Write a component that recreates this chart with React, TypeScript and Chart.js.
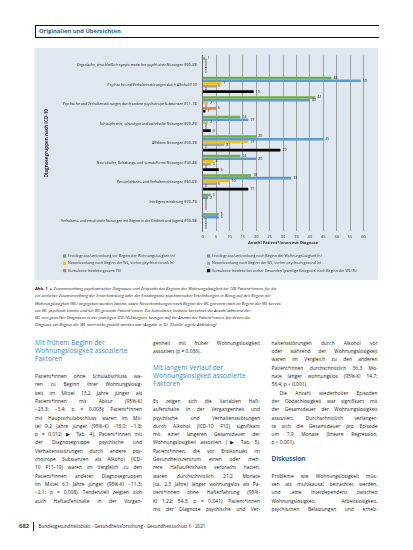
import React, { useEffect, useRef } from 'react';
import { Chart, registerables } from 'chart.js';
Chart.register(...registerables);

// ---------- data ----------
const categories = [
  'Organische, einschließlich symptomatischer psychischer Störungen (F00–09)',
  'Psychische und Verhaltensstörungen durch Alkohol (F10)',
  'Psychische und Verhaltensstörungen durch andere psychotrope Substanzen (F11–19)',
  'Schizophrenie, schizotype und wahnhafte Störungen (F20–29)',
  'Affektive Störungen (F30–39)',
  'Neurotische, Belastungs- und somatoforme Störungen (F40–48)',
  'Persönlichkeits- und Verhaltensstörungen (F60–69)',
  'Intelligenzminderung (F70–79)',
  'Verhaltens- und emotionale Störungen mit Beginn in der Kindheit und Jugend (F90–98)',
];
const vorBeginn = [1, 48, 42, 14, 20, 14, 18, 3, 6];
const nachBeginn = [0, 59, 40, 17, 45, 20, 33, 2, 6];
const neuVorherKrank = [0, 7, 2, 2, 17, 4, 10, 0, 0];
const neuVorherGesund = [0, 5, 0, 0, 8, 3, 5, 0, 0];
const inzidenzGesamt = [0, 0, 5, 0, 0, 0, 0, 0, 0];
const inzidenzKategorie = [0, 19, 1, 3, 29, 6, 17, 0, 0];

const seriesLabels = [
  'Erstdiagnose/-erkrankung vor Beginn der Wohnungslosigkeit (n)',
  'Erstdiagnose/-erkrankung nach Beginn der Wohnungslosigkeit (n)',
  'Neuerkrankung nach Beginn der WL, vorher psychisch krank (n)',
  'Neuerkrankung nach Beginn der WL, vorher psychisch gesund (n)',
  'Kumulative Inzidenz gesamt (%)',
  'Kumulative Inzidenz bei vorher Gesunden (jeweilige Kategorie) nach Beginn der WL (%)',
];
const seriesColors = ['#70ad47', '#5b9bd5', '#ffc000', '#a5a5a5', '#ed7d31', '#000000'];
const xMin = 0;
const xMax = 60;
const xStep = 5;
const xTitle = 'Anzahl Patient*innen mit Diagnose';
const yTitle = 'Diagnosegruppen nach ICD-10';

// ---------- plugins ----------
const valueLabels = {
  id: 'valueLabels',
  afterDatasetsDraw(chart: any) {
    const ctx = chart.ctx;
    ctx.save();
    ctx.font = '3.6px "Open Sans"';
    ctx.fillStyle = '#222';
    ctx.textBaseline = 'middle';
    ctx.textAlign = 'left';
    chart.data.datasets.forEach((ds: any, i: number) => {
      const meta = chart.getDatasetMeta(i);
      meta.data.forEach((bar: any, j: number) => {
        ctx.fillText(String(ds.data[j]), bar.x + 2, bar.y);
      });
    });
    ctx.restore();
  },
};

const twoColLegend = {
  id: 'twoColLegend',
  afterDraw(chart: any) {
    const ctx = chart.ctx;
    const order = [0, 1, 2, 3, 4, 5];
    const colX = [28, 172];
    const rowY = [208, 215.3, 222.5];
    ctx.save();
    ctx.font = '3.6px "Open Sans"';
    ctx.textBaseline = 'middle';
    order.forEach((di, k) => {
      const ds = chart.data.datasets[di];
      const x = colX[k % 2];
      const y = rowY[Math.floor(k / 2)];
      ctx.fillStyle = ds.backgroundColor;
      ctx.fillRect(x, y - 1.6, 3.2, 3.2);
      ctx.fillStyle = '#333';
      ctx.fillText(ds.label, x + 5, y);
    });
    ctx.restore();
  },
};

// ---------- text ----------
type L = { t: string; k: 'h' | 'b' | 'bl' | 'x' | 'd' | 'i' };
const col1: L[] = [
  { t: 'Mit frühem Beginn der', k: 'h' },
  { t: 'Wohnungslosigkeit assoziierte', k: 'h' },
  { t: 'Faktoren', k: 'h' },
  { t: '', k: 'x' },
  { t: 'Patient*innen ohne Schulabschluss wa-', k: 'b' },
  { t: 'ren zu Beginn ihrer Wohnungslosig-', k: 'b' },
  { t: 'keit im Mittel 13,2 Jahre jünger als', k: 'b' },
  { t: 'Patient*innen mit Abitur (95%-KI', k: 'b' },
  { t: '−23,3; −3,4; p = 0,003); Patient*innen', k: 'b' },
  { t: 'mit Hauptschulabschluss waren im Mit-', k: 'b' },
  { t: 'tel 9,2 Jahre jünger (95%-KI −18,0; −1,8;', k: 'b' },
  { t: 'p = 0,012; ▶ Tab. 4). Patient*innen mit', k: 'b' },
  { t: 'der Diagnosegruppe psychische und', k: 'b' },
  { t: 'Verhaltensstörungen durch andere psy-', k: 'b' },
  { t: 'chotrope Substanzen als Alkohol (ICD-', k: 'b' },
  { t: '10 F11–19) waren im Vergleich zu den', k: 'b' },
  { t: 'Patient*innen anderer Diagnosegruppen', k: 'b' },
  { t: 'im Mittel 6,1 Jahre jünger (95%-KI −11,3;', k: 'b' },
  { t: '−2,1; p = 0,008). Tendenziell zeigten sich', k: 'b' },
  { t: 'auch Haftaufenthalte in der Vorgan-', k: 'b' },
];
const col2: L[] = [
  { t: 'genheit mit früher Wohnungslosigkeit', k: 'b' },
  { t: 'assoziiert (p = 0,036).', k: 'bl' },
  { t: '', k: 'x' },
  { t: 'Mit langem Verlauf der', k: 'h' },
  { t: 'Wohnungslosigkeit assoziierte', k: 'h' },
  { t: 'Faktoren', k: 'h' },
  { t: '', k: 'x' },
  { t: 'Es zeigen sich die Variablen Haft-', k: 'b' },
  { t: 'aufenthalte in der Vergangenheit und', k: 'b' },
  { t: 'psychische und Verhaltensstörungen', k: 'b' },
  { t: 'durch Alkohol (ICD-10 F10) signifikant', k: 'b' },
  { t: 'mit einer längeren Gesamtdauer der', k: 'b' },
  { t: 'Wohnungslosigkeit assoziiert (▶ Tab. 5).', k: 'b' },
  { t: 'Patient*innen, die vor Erstkontakt im', k: 'b' },
  { t: 'Gesundheitszentrum einen oder meh-', k: 'b' },
  { t: 'rere Haftaufenthalte verbracht hatten,', k: 'b' },
  { t: 'waren durchschnittlich 27,2 Monate', k: 'b' },
  { t: '(ca. 2,3 Jahre) länger wohnungslos als Pa-', k: 'b' },
  { t: 'tient*innen ohne Hafterfahrung (95%-', k: 'b' },
  { t: 'KI 1,22; 54,3; p = 0,041). Patient*innen', k: 'b' },
  { t: 'mit der Diagnose psychische und Ver-', k: 'b' },
];
const col3: L[] = [
  { t: 'haltensstörungen durch Alkohol vor', k: 'b' },
  { t: 'oder während der Wohnungslosigkeit', k: 'b' },
  { t: 'waren im Vergleich zu den anderen', k: 'b' },
  { t: 'Patient*innen durchschnittlich 36,3 Mo-', k: 'b' },
  { t: 'nate länger wohnungslos (95%-KI 14,7;', k: 'b' },
  { t: '58,4; p < 0,001).', k: 'bl' },
  { t: 'Die Anzahl wiederholter Episoden', k: 'i' },
  { t: 'der Obdachlosigkeit war signifikant mit', k: 'b' },
  { t: 'der Gesamtdauer der Wohnungslosigkeit', k: 'b' },
  { t: 'assoziiert. Durchschnittlich verlänger-', k: 'b' },
  { t: 'te sich die Gesamtdauer pro Episode', k: 'b' },
  { t: 'um 7,9 Monate (lineare Regression,', k: 'b' },
  { t: 'p < 0,001).', k: 'bl' },
  { t: '', k: 'x' },
  { t: 'Diskussion', k: 'd' },
  { t: '', k: 'x' },
  { t: 'Probleme wie Wohnungslosigkeit müs-', k: 'b' },
  { t: 'sen als multikausal betrachtet werden,', k: 'b' },
  { t: 'und „eine Interdependenz zwischen', k: 'b' },
  { t: 'Wohnungslosigkeit,    Arbeitslosigkeit,', k: 'b' },
  { t: 'psychischen Belastungen und erheb-', k: 'b' },
];
const caption = [
  'Zusammenhang psychiatrischer Diagnosen und Zeitpunkt des Beginns der Wohnungslosigkeit bei 106 Patient*innen, für die',
  'ein zeitlicher Zusammenhang der Ersterkrankung oder der Erstdiagnose psychiatrischer Erkrankungen in Bezug auf den Beginn der',
  'Wohnungslosigkeit (WL) angegeben werden konnte, sowie Neuerkrankungen nach Beginn der WL getrennt nach zu Beginn der WL bereits',
  'vor WL psychisch kranke und bei WL gesunde Patient*innen. Die kumulative Inzidenz berechnet die Anzahl während der',
  'WL neu gestellter Diagnosen in der jeweiligen ICD-10-Kategorie bezogen auf die Anzahl der Patient*innen, bei denen die',
  'Diagnose vor Beginn der WL noch nicht gestellt worden war (Angabe in %). (Quelle: eigene Abbildung)',
];

const LH = 8.33;
const START = 342.7;

function Column({ x, w, lines }: { x: number; w: number; lines: L[] }) {
  return (
    <>
      {lines.map((l, i) => {
        if (l.k === 'x') return null;
        const cy = START + i * LH;
        const base: React.CSSProperties = {
          position: 'absolute',
          left: x,
          top: cy - LH / 2,
          width: w,
          height: LH,
          lineHeight: LH + 'px',
          whiteSpace: 'nowrap',
          fontFamily: '"Open Sans", sans-serif',
        };
        if (l.k === 'h') {
          return (
            <div key={i} style={{ ...base, fontSize: 6.6, color: '#3a8ad0' }}>{l.t}</div>
          );
        }
        if (l.k === 'd') {
          return (
            <div key={i} style={{ ...base, fontSize: 6.3, color: '#1f5f9f', fontWeight: 700 }}>{l.t}</div>
          );
        }
        const just = l.k === 'b' || l.k === 'i';
        return (
          <div
            key={i}
            style={{
              ...base,
              fontSize: 4.9,
              color: '#222',
              textAlign: just ? 'justify' : 'left',
              textAlignLast: just ? 'justify' : 'left',
              paddingLeft: l.k === 'i' ? 8 : 0,
              boxSizing: 'border-box',
            } as any}
          >
            {l.t}
          </div>
        );
      })}
    </>
  );
}

export default function App() {
  const ref = useRef<HTMLCanvasElement>(null);
  useEffect(() => {
    const all = [vorBeginn, nachBeginn, neuVorherKrank, neuVorherGesund, inzidenzGesamt, inzidenzKategorie];
    const chart = new Chart(ref.current as HTMLCanvasElement, {
      type: 'bar',
      data: {
        labels: categories,
        datasets: all.map((d, i) => ({
          label: seriesLabels[i],
          data: d,
          backgroundColor: seriesColors[i],
          borderWidth: 0,
          categoryPercentage: 0.84,
          barPercentage: 0.95,
        })),
      },
      options: {
        indexAxis: 'y',
        responsive: false,
        animation: false,
        devicePixelRatio: 1,
        layout: { padding: { top: 6.5, right: 14.5, bottom: 33, left: 0 } },
        plugins: { legend: { display: false }, tooltip: { enabled: false } },
        scales: {
          x: {
            type: 'linear',
            min: xMin,
            max: xMax,
            ticks: { stepSize: xStep, font: { size: 4, family: '"Open Sans"' }, color: '#333', padding: 3 },
            grid: { color: '#8d8d8d', lineWidth: 0.8, drawTicks: false },
            border: { display: false },
            title: {
              display: true,
              text: xTitle,
              color: '#333',
              font: { size: 4, family: '"Open Sans"', weight: 'bold' },
              padding: { top: 0, bottom: 1.6 },
            },
            afterFit: (s: any) => { s.height = 16; },
          },
          y: {
            type: 'category',
            ticks: { font: { size: 3.4, family: '"Open Sans"' }, color: '#222', padding: 5.5, autoSkip: false },
            grid: { display: false, drawTicks: false },
            border: { display: true, color: '#6d6d6d', width: 1 },
            title: {
              display: true,
              text: yTitle,
              color: '#333',
              font: { size: 4.6, family: '"Open Sans"', weight: 'bold' },
              padding: { top: 9.2, bottom: 0 },
            },
            afterFit: (s: any) => { s.width = 167.7; },
          },
        },
      } as any,
      plugins: [valueLabels, twoColLegend],
    });
    return () => chart.destroy();
  }, []);

  return (
    <div
      style={{
        position: 'absolute',
        left: 0,
        top: 0,
        width: 413,
        height: 550,
        background: '#fff',
        overflow: 'hidden',
        fontFamily: '"Open Sans", sans-serif',
      }}
    >
      {/* header box */}
      <div
        style={{
          position: 'absolute',
          left: 35,
          top: 25,
          width: 344,
          height: 12.7,
          borderTop: '1px solid #111',
          borderBottom: '1px solid #111',
          borderLeft: '1px solid #111',
          boxSizing: 'border-box',
        }}
      />
      <div
        style={{
          position: 'absolute',
          left: 39,
          top: 26,
          height: 11,
          lineHeight: '11px',
          fontSize: 5.8,
          fontWeight: 700,
          color: '#1f5f9f',
          whiteSpace: 'nowrap',
        }}
      >
        Originalien und Übersichten
      </div>

      {/* chart panel */}
      <canvas
        ref={ref}
        width={343}
        height={232}
        style={{ position: 'absolute', left: 35, top: 48, width: 343, height: 232, background: '#dfe7f1' }}
      />

      {/* caption */}
      {caption.map((c, i) => (
        <div
          key={i}
          style={{
            position: 'absolute',
            left: 35,
            top: 288.5 + i * 7.3 - 3.6,
            height: 7.2,
            lineHeight: '7.2px',
            fontSize: 4.1,
            fontStyle: 'italic',
            color: '#222',
            whiteSpace: 'nowrap',
          }}
        >
          {i === 0 ? (
            <span style={{ fontStyle: 'normal', fontWeight: 700 }}>Abb. 1 <span style={{ color: '#2f7fc1' }}>▲</span> </span>
          ) : null}
          {c}
        </div>
      ))}

      <Column x={35} w={107} lines={col1} />
      <Column x={153} w={107} lines={col2} />
      <Column x={271.5} w={106} lines={col3} />

      {/* footer */}
      <div
        style={{
          position: 'absolute',
          left: 19,
          top: 522,
          height: 8,
          lineHeight: '8px',
          fontSize: 6,
          color: '#222',
          fontWeight: 600,
        }}
      >
        682
      </div>
      <div style={{ position: 'absolute', left: 33, top: 521.5, width: 1, height: 9, background: '#222' }} />
      <div
        style={{
          position: 'absolute',
          left: 38.5,
          top: 522,
          height: 8,
          lineHeight: '8px',
          fontSize: 4.6,
          color: '#222',
          whiteSpace: 'nowrap',
        }}
      >
        Bundesgesundheitsblatt - Gesundheitsforschung - Gesundheitsschutz 6 · 2021
      </div>
    </div>
  );
}
